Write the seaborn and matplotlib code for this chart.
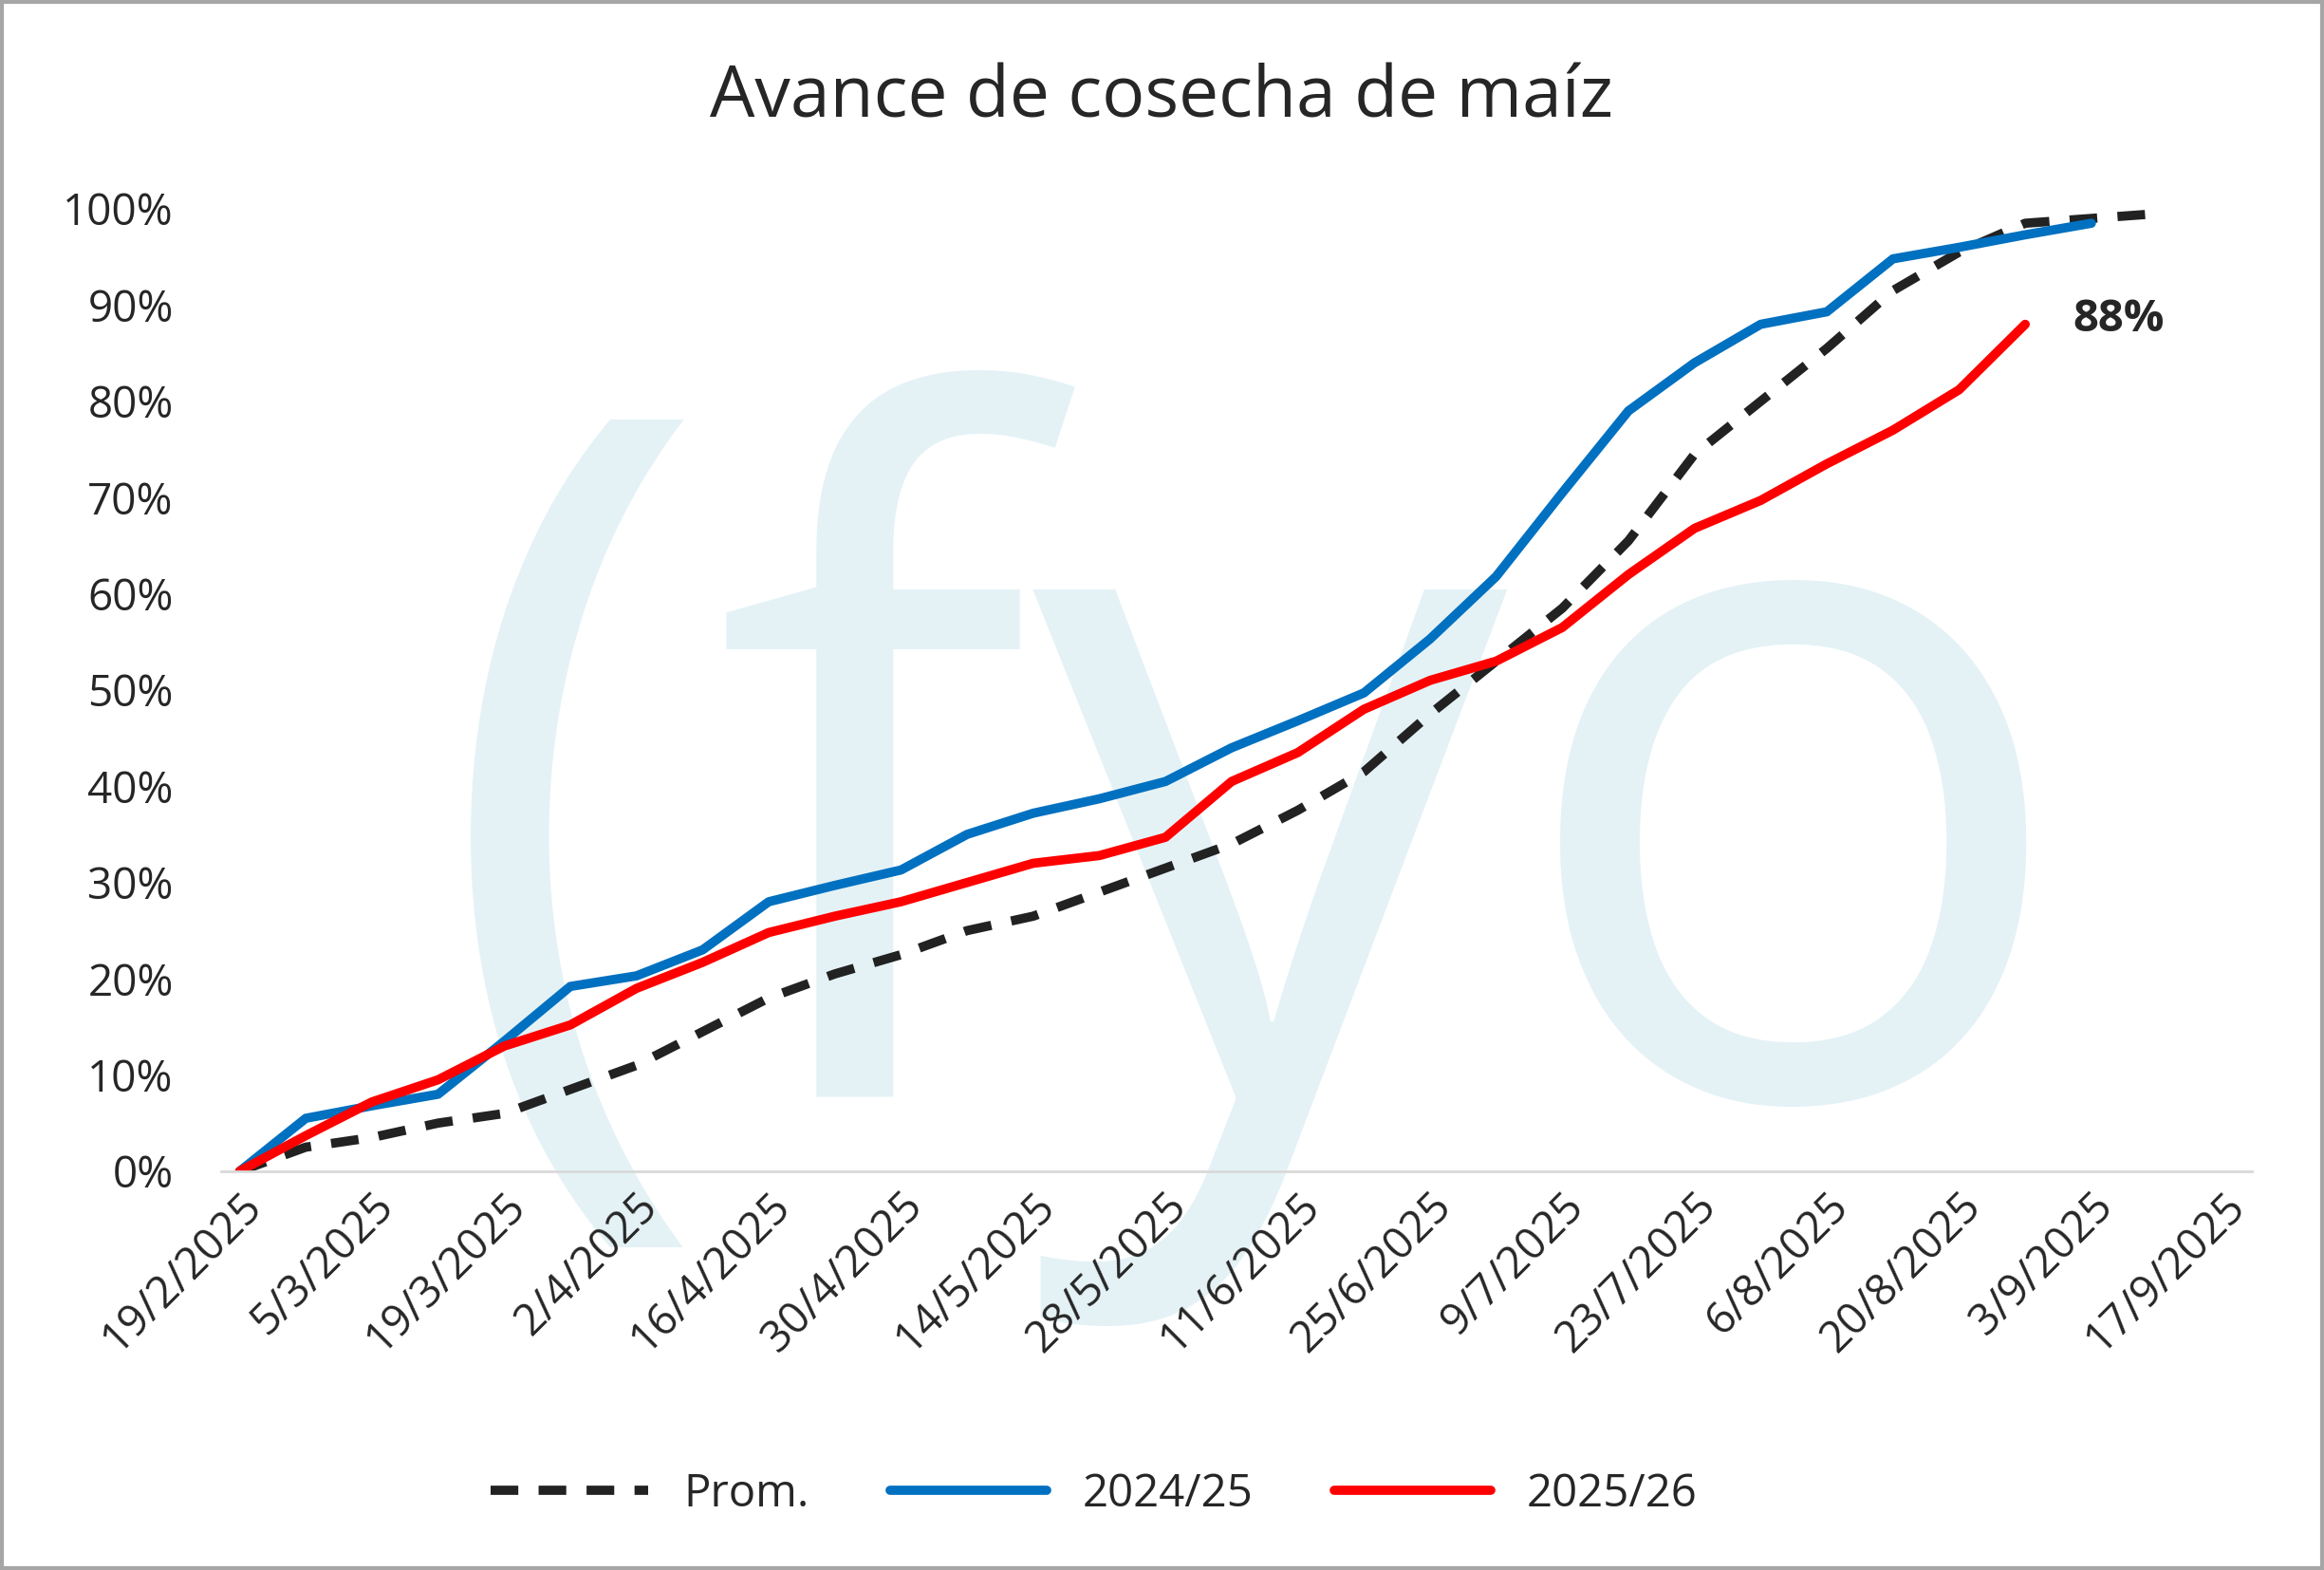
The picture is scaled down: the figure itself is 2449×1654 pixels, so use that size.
import pandas as pd
import numpy as np
import matplotlib
matplotlib.use("Agg")
import matplotlib.pyplot as plt
import seaborn as sns

dates = pd.date_range("2025-02-19", periods=30, freq="7D")
prom = [0, 2.5, 3.5, 5, 6, 8.5, 11, 14.5, 18, 20.5, 22.5, 25, 26.5, 29, 31.5,
        34, 37.5, 41.5, 47.5, 53, 58.5, 65.5, 74.5, 80, 85.5, 91.5, 95.5, 98.5, 99, 99.5]
c2425 = [0, 5.5, 6.8, 8, 13.5, 19.2, 20.3, 23, 28, 29.7, 31.3, 35, 37.2, 38.7, 40.5,
         44, 46.8, 49.7, 55.3, 61.8, 70.5, 79, 84, 88, 89.3, 94.8, 96, 97.3, 98.5]
c2526 = [0, 3.7, 7.2, 9.5, 13, 15.2, 19, 21.7, 24.8, 26.5, 28, 30, 32, 32.8, 34.7,
         40.5, 43.5, 48, 51, 53, 56.5, 62, 66.8, 69.7, 73.5, 77, 81.2, 88]

sns.set_theme(style="white")
plt.rcParams['font.family'] = ['Open Sans', 'DejaVu Sans']

fig = plt.figure(figsize=(24.49, 16.54), dpi=100)
ax = fig.add_axes([0.095, 0.254, 0.874, 0.613])
ax.set_zorder(2)

# watermark, behind the axes
fig.text(0.54, 0.46, "(fyo", fontsize=720, color="#e4f2f6", ha="center", va="center",
         zorder=-5)

df_p = pd.DataFrame({"fecha": dates, "v": np.array(prom) / 100})
df_a = pd.DataFrame({"fecha": dates[:len(c2425)], "v": np.array(c2425) / 100})
df_b = pd.DataFrame({"fecha": dates[:len(c2526)], "v": np.array(c2526) / 100})

sns.lineplot(data=df_p, x="fecha", y="v", ax=ax, color="#222222", lw=7,
             linestyle=(0, (3, 2.2)), label="Prom.")
sns.lineplot(data=df_a, x="fecha", y="v", ax=ax, color="#0070c0", lw=7, label="2024/25")
sns.lineplot(data=df_b, x="fecha", y="v", ax=ax, color="#ff0000", lw=7, label="2025/26")

ax.annotate("88%", (df_b["fecha"].iloc[-1], c2526[-1] / 100), xytext=(36, 4),
            textcoords="offset points", fontsize=34, fontweight="bold", va="center")

ax.set_ylim(0, 1.0)
ax.set_yticks(np.arange(0, 1.01, 0.1))
ax.set_yticklabels([f"{int(round(t*100))}%" for t in np.arange(0, 1.01, 0.1)], fontsize=33)
ticks = pd.date_range("2025-02-19", "2025-09-17", freq="14D")
ax.set_xticks(ticks)
ax.set_xticklabels([f"{d.day}/{d.month}/{d.year}" for d in ticks], rotation=45,
                   ha="right", rotation_mode="anchor", fontsize=33)
ax.set_xlim(pd.Timestamp("2025-02-17"), pd.Timestamp("2025-09-20"))
ax.set_xlabel("")
ax.set_ylabel("")
ax.patch.set_alpha(0)
for s in ["top", "right", "left"]:
    ax.spines[s].set_visible(False)
ax.spines["bottom"].set_color("#d9d9d9")
ax.spines["bottom"].set_linewidth(2)
ax.tick_params(axis="x", length=0, pad=10)
ax.tick_params(axis="y", length=0, pad=36)

fig.suptitle("Avance de cosecha de maíz", fontsize=54, y=0.96)
ax.legend(loc="upper center", bbox_to_anchor=(0.43, -0.27), ncol=3, frameon=False,
          fontsize=34, handlelength=3.5, columnspacing=1.8)

fig.patches.append(plt.Rectangle((0.001, 0.001), 0.998, 0.998, transform=fig.transFigure,
                                 fill=False, edgecolor="#a6a6a6", lw=3))
fig.savefig("out.png", dpi=100)
